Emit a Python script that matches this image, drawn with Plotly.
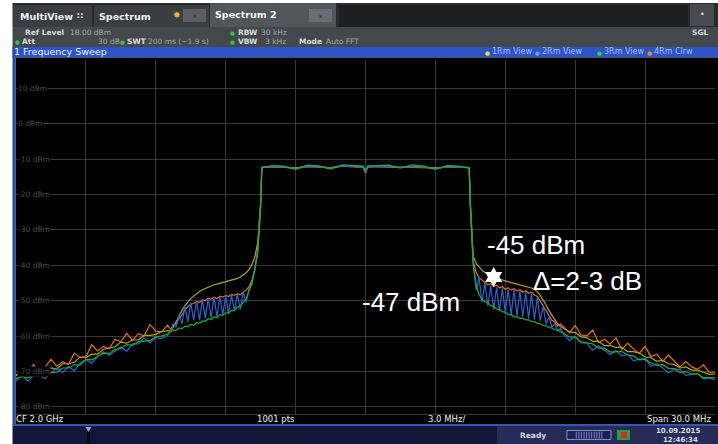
import plotly.graph_objects as go

# ---------------- data ----------------
# frequency offset from CF 2.0 GHz, MHz
FREQ_MHZ = [
    -15.0, -14.75, -14.5, -14.25, -14.0, -13.75, -13.5, -13.25, -13.0, -12.75, -12.5, -12.25, -12.0, -11.75,
    -11.5, -11.25, -11.0, -10.75, -10.5, -10.25, -10.0, -9.75, -9.5, -9.25, -9.0, -8.75, -8.5,
    -8.375, -8.25, -8.125, -8.0, -7.875, -7.75, -7.625, -7.5, -7.375, -7.25, -7.125, -7.0, -6.875, -6.75,
    -6.625, -6.5, -6.375, -6.25, -6.125, -6.0, -5.875, -5.75, -5.625, -5.5, -5.375, -5.25, -5.125, -5.0,
    -4.875, -4.75, -4.625,
    -4.5,
    -4.45, -4.0, -3.5, -3.0, -2.5, -2.0, -1.5, -1.0, -0.5, -0.1, 0.0, 0.1, 0.5, 1.0, 1.5, 2.0, 2.5, 3.0, 3.5, 4.0, 4.45,
    4.5,
    4.625, 4.75, 4.875, 5.0, 5.125, 5.25, 5.375, 5.5, 5.625, 5.75, 5.875, 6.0, 6.125, 6.25, 6.375, 6.5,
    6.625, 6.75, 6.875, 7.0, 7.125, 7.25, 7.375, 7.5, 7.625, 7.75, 7.875, 8.0, 8.125, 8.25, 8.375,
    8.5, 8.75, 9.0, 9.25, 9.5, 9.75, 10.0, 10.25, 10.5, 10.75, 11.0, 11.25, 11.5, 11.75, 12.0, 12.25, 12.5,
    12.75, 13.0, 13.25, 13.5, 13.75, 14.0, 14.25, 14.5, 14.75, 15.0,
]

# Trace 1 (1Rm View, yellow)
TRACE1_DBM = [
    -71.2, -70.4, -71.1, -70.2, -69.4, -69.8, -69.0, -69.3, -67.8, -67.8, -67.4, -65.9, -66.1, -65.1,
    -65.1, -63.7, -63.4, -63.0, -61.7, -62.0, -61.1, -61.1, -59.8, -59.8, -59.5, -58.7, -58.5,
    -58.5, -57.5, -55.8, -54.2, -52.7, -51.4, -50.3, -49.4, -48.7, -48.0, -47.4, -46.9, -46.5, -46.1,
    -45.8, -45.5, -45.3, -45.1, -44.9, -44.7, -44.5, -44.3, -44.0, -43.7, -43.3, -42.8, -42.1, -41.2,
    -39.8, -37.6, -33.5,
    -22.0,
    -12.3, -12.1, -12.2, -12.6, -12.0, -12.1, -12.5, -11.9, -12.1, -12.2, -13.6, -12.1, -12.0, -12.1, -12.4,
    -12.0, -12.2, -12.6, -12.1, -12.2, -12.4,
    -22.0,
    -37.5, -39.5, -40.6, -41.4, -42.0, -42.5, -42.9, -43.3, -43.6, -43.9, -44.2, -44.5, -44.7, -44.9, -45.1, -45.3,
    -45.5, -45.7, -45.9, -46.1, -46.4, -46.8, -47.5, -48.5, -49.8, -51.2, -52.8, -54.2, -55.5, -56.6, -57.3,
    -57.8, -58.8, -59.0, -60.2, -60.4, -61.5, -61.4, -62.7, -62.6, -63.2, -63.2, -64.4, -64.4, -64.8, -65.9, -66.1,
    -67.1, -66.8, -67.8, -68.0, -69.0, -68.7, -69.6, -69.6, -70.2, -70.8, -70.7,
]

# Trace 2 (2Rm View, blue)
TRACE2_DBM = [
    -72.7, -71.0, -72.7, -71.2, -70.7, -72.0, -70.4, -69.1, -70.3, -68.6, -69.8, -67.6, -66.6, -67.7,
    -65.8, -64.5, -65.4, -64.2, -63.0, -64.3, -62.2, -62.2, -60.5, -61.9, -60.4, -60.7, -59.8,
    -58.5, -56.5, -57.5, -54.0, -56.5, -51.5, -56.0, -50.5, -55.5, -50.0, -55.5, -49.5, -55.0, -49.3,
    -54.8, -49.0, -54.5, -48.8, -54.0, -48.5, -53.8, -48.3, -53.0, -48.0, -52.5, -47.5, -50.5, -46.5,
    -45.5, -41.5, -36.0,
    -23.0,
    -12.3, -12.1, -12.3, -12.7, -12.1, -12.2, -12.6, -12.0, -12.2, -12.3, -13.8, -12.2, -12.1, -12.1, -12.4,
    -12.1, -12.3, -12.7, -12.2, -12.3, -12.4,
    -23.0,
    -39.5, -47.0, -43.5, -50.5, -45.0, -51.5, -45.8, -52.5, -46.2, -53.0, -46.5, -53.5, -46.8, -54.0, -47.0, -54.3,
    -47.3, -54.6, -47.6, -55.0, -48.0, -55.3, -49.0, -55.8, -51.5, -56.5, -54.5, -57.5, -56.5, -58.5, -57.8,
    -59.5, -61.2, -60.1, -61.9, -62.0, -64.0, -62.7, -64.0, -65.2, -64.1, -65.6, -65.1, -67.0, -66.5, -66.3, -68.5,
    -67.8, -68.9, -70.4, -69.3, -69.4, -71.1, -70.8, -70.5, -72.1, -71.8, -72.4,
]

# Trace 3 (3Rm View, green)
TRACE3_DBM = [
    -72.1, -71.4, -71.8, -71.1, -71.2, -70.1, -70.3, -70.2, -69.0, -69.0, -68.1, -68.2, -66.6, -66.7,
    -65.7, -64.8, -64.9, -63.8, -63.5, -62.4, -62.6, -61.6, -61.4, -61.3, -60.1, -60.0, -59.4,
    -58.8, -58.3, -58.4, -57.7, -57.9, -57.2, -57.4, -56.7, -56.9, -56.2, -56.3, -55.7, -55.8, -55.1,
    -55.3, -54.6, -54.7, -54.0, -54.1, -53.4, -53.5, -52.7, -52.7, -51.8, -51.6, -50.4, -49.6, -47.3,
    -45.0, -41.0, -36.5,
    -24.0,
    -12.4, -11.8, -12.0, -12.9, -11.7, -11.9, -12.8, -11.6, -11.9, -12.0, -13.2, -11.9, -11.8, -11.7, -12.5,
    -11.6, -12.0, -12.9, -11.8, -12.0, -12.5,
    -24.0,
    -40.0, -45.5, -48.3, -49.6, -50.2, -50.6, -51.4, -51.5, -52.4, -52.5, -53.1, -53.3, -53.9, -53.9, -54.6, -54.5,
    -55.0, -55.0, -55.4, -55.4, -55.9, -55.9, -56.4, -56.5, -57.0, -57.1, -57.6, -57.7, -58.2, -58.3, -58.8,
    -59.2, -60.3, -60.3, -61.6, -61.8, -62.2, -63.4, -63.4, -64.5, -64.4, -64.3, -65.4, -65.6, -66.7, -66.6, -67.6,
    -68.3, -68.0, -69.1, -69.2, -70.3, -70.0, -70.7, -70.7, -71.7, -71.7, -71.8,
]

# Trace 4 (4Rm Clrw, orange)
TRACE4_DBM = [
    -71.0, -69.4, -70.0, -68.1, -70.0, -68.8, -66.5, -68.5, -67.2, -68.0, -64.8, -66.0, -65.8, -62.4,
    -64.2, -62.9, -63.6, -60.9, -61.6, -59.2, -61.2, -59.3, -59.9, -56.7, -58.6, -58.8, -56.9,
    -58.0, -57.0, -56.5, -55.0, -54.0, -52.5, -51.8, -51.0, -50.8, -50.2, -50.5, -49.8, -50.0, -49.3,
    -49.6, -49.0, -49.4, -48.7, -49.0, -48.5, -48.8, -48.2, -48.5, -48.0, -48.3, -47.6, -47.0, -46.0,
    -44.3, -41.0, -35.5,
    -23.0,
    -12.3, -12.2, -12.4, -12.5, -12.1, -12.3, -12.4, -12.0, -12.2, -12.3, -14.0, -12.2, -12.1, -12.2, -12.3,
    -12.2, -12.3, -12.5, -12.3, -12.2, -12.4,
    -23.0,
    -39.0, -42.0, -43.5, -44.2, -44.8, -45.5, -45.2, -46.0, -45.6, -46.4, -46.0, -46.8, -46.3, -47.0, -46.6, -47.3,
    -46.9, -47.6, -47.2, -47.9, -47.6, -48.4, -48.8, -50.2, -51.5, -53.0, -54.2, -55.5, -56.0, -57.2, -56.6,
    -57.5, -59.0, -57.0, -59.7, -59.9, -58.3, -61.8, -60.9, -62.2, -60.5, -63.8, -62.0, -63.6, -64.9, -62.9, -65.8,
    -65.1, -67.2, -65.4, -67.0, -68.7, -67.2, -68.7, -69.4, -68.1, -70.2, -70.2,
]

TRACE_NAMES = ["1Rm View", "2Rm View", "3Rm View", "4Rm Clrw"]
TRACE_COLORS = ["#aea626", "#2a63d4", "#22ad2a", "#e2701c"]

Y_TICK_VALUES = [10, 0, -10, -20, -30, -40, -50, -60, -70, -80]
Y_TICK_LABELS = ["10 dBm", "0 dBm", "-10 dBm", "-20 dBm", "-30 dBm", "-40 dBm",
                 "-50 dBm", "-60 dBm", "-70 dBm", "-80 dBm"]

MARKER_F_MHZ = [5.5]
MARKER_DBM = [-43.3]

REF_LEVEL = 18.0
Y_BOTTOM = -82.0
SPAN_MHZ = 30.0

# ---------------- layout helpers (pixel -> paper) ----------------
W, H = 718, 444
ML, MR, MT, MB = 16, 3, 60, 30
PW, PH = W - ML - MR, H - MT - MB


def px(x):
    return (x - ML) / PW


def py(y):
    return (H - MB - y) / PH


shapes = []
annos = []


def rect(x0, y0, x1, y1, color, layer="above", line=None):
    d = dict(type="rect", xref="paper", yref="paper", x0=px(x0), x1=px(x1), y0=py(y1), y1=py(y0),
             fillcolor=color, layer=layer, line=dict(width=0))
    if line:
        d["line"] = dict(color=line, width=1)
    shapes.append(d)


def text(x, y, s, size=8, color="#d0d0d0", bold=False, anchor="left", family="DejaVu Sans", bg=None):
    a = dict(xref="paper", yref="paper", x=px(x), y=py(y), text=("<b>%s</b>" % s) if bold else s,
             showarrow=False, xanchor=anchor, yanchor="middle", borderpad=0,
             font=dict(size=size, color=color, family=family))
    if bg:
        a["bgcolor"] = bg
    annos.append(a)


# ---------------- chrome ----------------
# top white strip is paper background; tab bar
rect(12.5, 3, 718, 27, "#2a2b2c", layer="below")
rect(13, 5, 92, 27, "#3b3e41")
rect(94, 5, 209, 27, "#3b3e41")
rect(210, 3, 336, 27, "#51565a")
rect(339, 5, 688, 27, "#1d1e1f")
rect(183, 9, 206, 22, "#5b5f63")
rect(309, 9, 332, 22, "#6a6e72")
rect(690, 4, 714, 26, "#474b4f")
text(19, 17, "MultiView", 9.5, "#f0f0f0", True)
text(76, 16, "∷", 9, "#e0e0e0", True)
text(98, 17, "Spectrum", 9.5, "#f0f0f0", True)
text(172, 15, "✸", 9, "#f5b830")
text(194.5, 15.5, "x", 6, "#222222", anchor="center")
text(214, 15, "Spectrum 2", 9.5, "#f4f4f4", True)
text(320.5, 15.5, "x", 6, "#222222", anchor="center")
text(702, 15, "•", 8, "#e0e0e0", anchor="center")

# info rows
rect(12.5, 27, 718, 47, "#43484c", layer="below")
GREEN_DOT = "#38c23a"
text(24, 33, "Ref Level", 7.5, "#dcdcdc", True)
text(69, 33, "18.00 dBm", 7.5, "#a8a8a8")
text(229, 33, "●", 5.5, GREEN_DOT)
text(237, 33, "RBW", 7.5, "#dcdcdc", True)
text(260, 33, "30 kHz", 7.5, "#a8a8a8")
text(710, 33, "SGL", 7.5, "#dcdcdc", True, anchor="right")
text(14, 42, "●", 5.5, GREEN_DOT)
text(21, 42, "Att", 7.5, "#dcdcdc", True)
text(97, 42, "30 dB", 7.5, "#a8a8a8")
text(119, 42, "●", 5.5, GREEN_DOT)
text(126, 42, "SWT", 7.5, "#dcdcdc", True)
text(147, 42, "200 ms (~1.9 s)", 7.5, "#a8a8a8")
text(229, 42, "●", 5.5, GREEN_DOT)
text(237, 42, "VBW", 7.5, "#dcdcdc", True)
text(264, 42, "3 kHz", 7.5, "#a8a8a8")
text(298, 42, "Mode", 7.5, "#dcdcdc", True)
text(325, 42, "Auto FFT", 7.5, "#a8a8a8")

# blue title bar
rect(12.5, 47, 718, 57.5, "#2c54c6", layer="below")
text(13, 52, "1 Frequency Sweep", 9.5, "#eef2ff")
legend_x = [484, 534, 596, 646]
legend_dot = ["#f2e23a", "#6c9cf0", "#3ccf3c", "#f08a20"]
for lx, nm, dc in zip(legend_x, TRACE_NAMES, legend_dot):
    text(lx, 52.5, "●", 5.5, dc)
    text(lx + 7, 52, nm, 8, "#a9bff2")

# black plot frame + borders
rect(15.5, 57.5, 718, 424.5, "#000000", layer="below")
rect(12.5, 47, 15.5, 426, "#2b4aa2")
rect(12.5, 424, 718, 426, "#3556b2")

# below-plot labels
text(15, 419, "CF 2.0 GHz", 8.5, "#ececec")
text(256, 419, "1001 pts", 8.5, "#ececec")
text(427, 419, "3.0 MHz/", 8.5, "#ececec")
text(712, 419, "Span 30.0 MHz", 8.5, "#ececec", anchor="right")

# status bar
rect(12.5, 426, 718, 444, "#121638")
rect(497, 426, 718, 444, "#262c57")
rect(87, 426, 90, 444, "#080a1c")
shapes.append(dict(type="path", xref="paper", yref="paper",
                   path="M %f,%f L %f,%f L %f,%f Z" % (px(85.5), py(427), px(91.5), py(427), px(88.5), py(432)),
                   fillcolor="#9aa0b8", line=dict(width=0)))
text(519, 435, "Ready", 7.5, "#d4d6e0", True)
rect(567, 430.5, 611, 439.5, "#1a2050", line="#7f8cd6")
text(589, 435, "|||||||||||", 7, "#8f9be0", True, anchor="center")
rect(617, 430, 630, 440, "#2e9a3a")
rect(621, 432, 627, 438, "#c83030")
text(655, 430.5, "10.09.2015", 7, "#dcdce6", True)
text(662, 439.5, "12:46:34", 7, "#dcdce6", True)

# y "tick" labels inside the grid
for v, lab in zip(Y_TICK_VALUES, Y_TICK_LABELS):
    annos.append(dict(xref="paper", yref="y", x=px(17), y=v, text=lab, showarrow=False,
                      xanchor="left", yanchor="middle", borderpad=0, bgcolor="#000000",
                      font=dict(size=7.5, color="#4c4c4c", family="DejaVu Sans")))

# callout texts
BIG = dict(size=26, color="#ffffff", family="Liberation Sans, Arial, sans-serif")
for x, y, s in [(485, 245, "-45 dBm"), (531, 281, "Δ=2-3 dB"), (360, 302, "-47 dBm")]:
    annos.append(dict(xref="paper", yref="paper", x=px(x), y=py(y), text=s, showarrow=False,
                      xanchor="left", yanchor="middle", font=BIG))

# ---------------- figure ----------------
fig = go.Figure()
order = [0, 3, 1, 2]
traces = [TRACE1_DBM, TRACE2_DBM, TRACE3_DBM, TRACE4_DBM]
for i in order:
    fig.add_trace(go.Scatter(x=FREQ_MHZ, y=traces[i], mode="lines", name=TRACE_NAMES[i],
                             line=dict(color=TRACE_COLORS[i], width=1.2), hoverinfo="skip"))
fig.add_trace(go.Scatter(x=MARKER_F_MHZ, y=MARKER_DBM, mode="markers", name="marker",
                         marker=dict(symbol="hexagram", size=15, color="#ffffff",
                                     line=dict(width=0)), hoverinfo="skip"))

fig.update_layout(
    width=W, height=H, margin=dict(l=ML, r=MR, t=MT, b=MB, pad=0),
    paper_bgcolor="#ffffff", plot_bgcolor="#000000", showlegend=False,
    shapes=shapes, annotations=annos,
    xaxis=dict(range=[-SPAN_MHZ / 2, SPAN_MHZ / 2], dtick=3, tick0=-15, showgrid=True, gridcolor="#383838",
               gridwidth=1, zeroline=False, showticklabels=False, showline=True, linecolor="#383838",
               ticks="", fixedrange=True),
    yaxis=dict(range=[Y_BOTTOM, REF_LEVEL], dtick=10, tick0=-80, showgrid=True, gridcolor="#383838",
               gridwidth=1, zeroline=False, showticklabels=False, showline=False, ticks="",
               fixedrange=True),
)

fig.write_html("out.html", config={"displayModeBar": False},
               post_script="document.body.style.margin='0';document.body.style.overflow='hidden';")
